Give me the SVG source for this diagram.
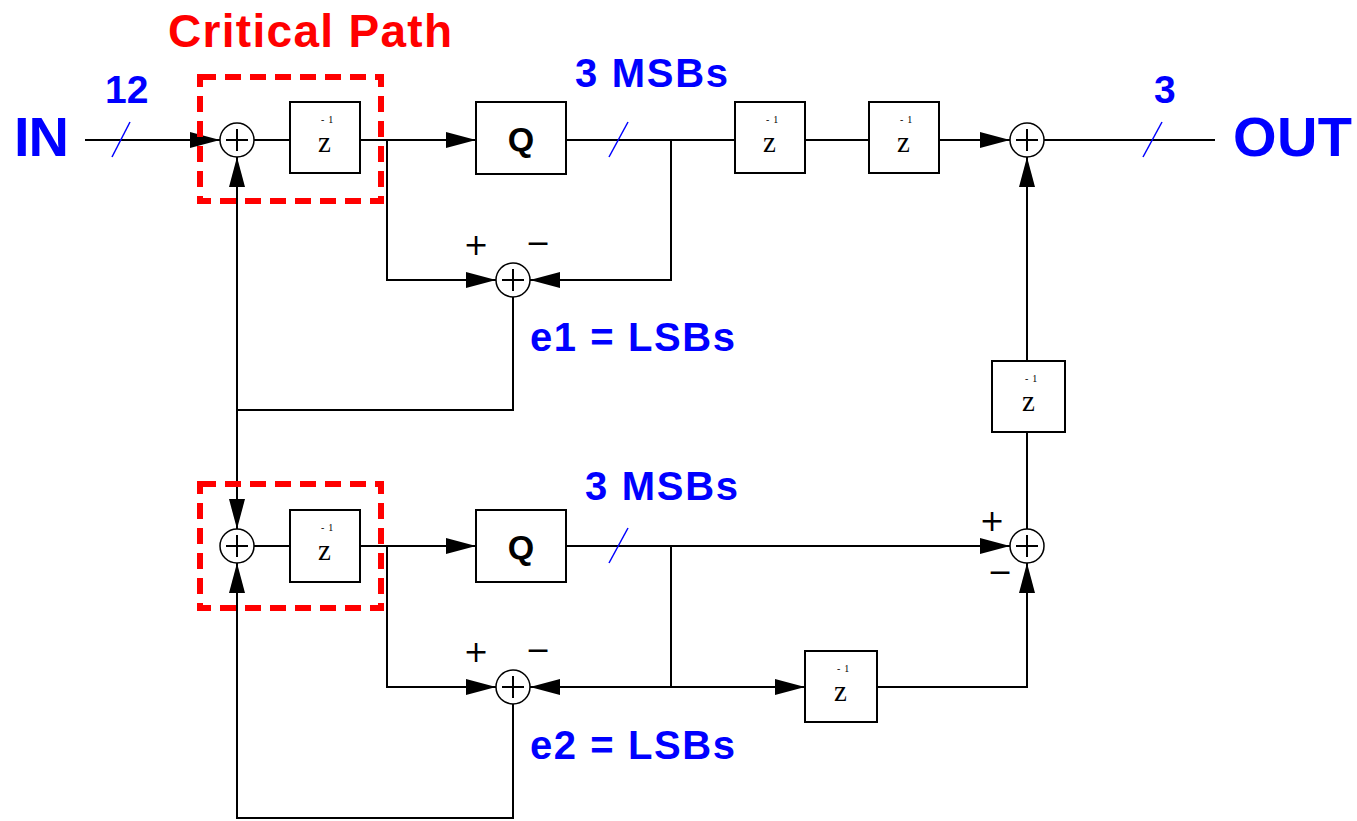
<svg xmlns="http://www.w3.org/2000/svg" width="1357" height="821" viewBox="0 0 1357 821">
<defs>
<style>
.w{stroke:#000;stroke-width:2;fill:none}
.box{stroke:#000;stroke-width:2;fill:#fff}
.sum{stroke:#000;stroke-width:1.5;fill:#fff}
.crit{stroke:#ff0000;stroke-width:6;fill:none;stroke-dasharray:16,9}
.sl{stroke:#0000ff;stroke-width:1.5}
.lbl{font-family:"Liberation Sans",Arial,sans-serif;font-weight:bold;fill:#0000ff}
.q{font-family:"Liberation Sans",Arial,sans-serif;font-weight:bold;fill:#000;font-size:34px}
.z{font-family:"Liberation Serif","Times New Roman",serif;fill:#000;font-size:29px}
.sup{font-family:"Liberation Serif","Times New Roman",serif;fill:#000;font-size:10px;letter-spacing:4px}
.pm{font-family:"DejaVu Sans",sans-serif;fill:#000;font-size:30px;font-weight:normal}
</style>
<marker id="ah" markerWidth="30" markerHeight="16" refX="30" refY="8" orient="auto" markerUnits="userSpaceOnUse">
<path d="M0,0 L30,8 L0,16 Z" fill="#000"/>
</marker>
</defs>
<rect width="1357" height="821" fill="#fff"/>

<g id="connectors">
<line class="w" x1="85" y1="140" x2="220" y2="140" marker-end="url(#ah)"/>
<line class="w" x1="254" y1="140" x2="290" y2="140"/>
<polyline class="w" points="360,140 476,140" marker-end="url(#ah)"/>
<polyline class="w" points="387,140 387,280 496,280" marker-end="url(#ah)"/>
<line class="w" x1="566" y1="140" x2="735" y2="140"/>
<polyline class="w" points="671,140 671,280 530,280" marker-end="url(#ah)"/>
<line class="w" x1="805" y1="140" x2="869" y2="140"/>
<line class="w" x1="939" y1="140" x2="1010" y2="140" marker-end="url(#ah)"/>
<line class="w" x1="1044" y1="140" x2="1215" y2="140"/>
<polyline class="w" points="513,297 513,410 237,410"/>
<line class="w" x1="237" y1="400" x2="237" y2="157" marker-end="url(#ah)"/>
<line class="w" x1="237" y1="400" x2="237" y2="529" marker-end="url(#ah)"/>
<line class="w" x1="254" y1="546" x2="290" y2="546"/>
<line class="w" x1="360" y1="546" x2="476" y2="546" marker-end="url(#ah)"/>
<line class="w" x1="566" y1="546" x2="1010" y2="546" marker-end="url(#ah)"/>
<polyline class="w" points="387,546 387,687 496,687" marker-end="url(#ah)"/>
<polyline class="w" points="671,546 671,687 530,687" marker-end="url(#ah)"/>
<line class="w" x1="671" y1="687" x2="805" y2="687" marker-end="url(#ah)"/>
<polyline class="w" points="877,687 1027,687 1027,563" marker-end="url(#ah)"/>
<line class="w" x1="1027" y1="529" x2="1027" y2="432"/>
<line class="w" x1="1027" y1="361" x2="1027" y2="157" marker-end="url(#ah)"/>
<polyline class="w" points="513,704 513,818 237,818 237,563" marker-end="url(#ah)"/>
<line class="sl" x1="112" y1="157" x2="130" y2="122"/>
<line class="sl" x1="609" y1="157" x2="628" y2="122"/>
<line class="sl" x1="1143" y1="157" x2="1162" y2="122"/>
<line class="sl" x1="609" y1="563" x2="628" y2="528"/>
</g>

<g id="sum1"><circle class="sum" cx="237" cy="140" r="17"/><path class="w" d="M226,140 H248 M237,129 V151"/></g>
<g id="sum2"><circle class="sum" cx="513" cy="280" r="17"/><path class="w" d="M502,280 H524 M513,269 V291"/><text class="pm" x="476" y="255" text-anchor="middle">+</text><text class="pm" x="538" y="253" text-anchor="middle">−</text></g>
<g id="sum3"><circle class="sum" cx="1027" cy="140" r="17"/><path class="w" d="M1016,140 H1038 M1027,129 V151"/></g>
<g id="sum4"><circle class="sum" cx="237" cy="546" r="17"/><path class="w" d="M226,546 H248 M237,535 V557"/></g>
<g id="sum5"><circle class="sum" cx="1027" cy="546" r="17"/><path class="w" d="M1016,546 H1038 M1027,535 V557"/><text class="pm" x="992" y="531" text-anchor="middle">+</text><text class="pm" x="1000" y="582" text-anchor="middle">−</text></g>
<g id="sum6"><circle class="sum" cx="513" cy="687" r="17"/><path class="w" d="M502,687 H524 M513,676 V698"/><text class="pm" x="476" y="662" text-anchor="middle">+</text><text class="pm" x="538" y="660" text-anchor="middle">−</text></g>

<g id="z1"><rect class="box" x="290" y="102" width="70" height="71"/><text class="z" x="318" y="152">z</text><text class="sup" x="321" y="123">-1</text></g>
<g id="q1"><rect class="box" x="476" y="102" width="90" height="72"/><text class="q" x="521" y="151" text-anchor="middle">Q</text></g>
<g id="z2"><rect class="box" x="735" y="102" width="70" height="71"/><text class="z" x="763" y="152">z</text><text class="sup" x="766" y="123">-1</text></g>
<g id="z3"><rect class="box" x="869" y="102" width="70" height="71"/><text class="z" x="897" y="152">z</text><text class="sup" x="900" y="123">-1</text></g>
<g id="z4"><rect class="box" x="992" y="361" width="73" height="71"/><text class="z" x="1022" y="411">z</text><text class="sup" x="1025" y="382">-1</text></g>
<g id="z5"><rect class="box" x="290" y="510" width="70" height="72"/><text class="z" x="318" y="560">z</text><text class="sup" x="321" y="531">-1</text></g>
<g id="q2"><rect class="box" x="476" y="510" width="90" height="72"/><text class="q" x="521" y="559" text-anchor="middle">Q</text></g>
<g id="z6"><rect class="box" x="805" y="651" width="72" height="71"/><text class="z" x="834" y="701">z</text><text class="sup" x="837" y="672">-1</text></g>

<g id="critical1"><rect class="crit" x="200" y="77" width="181" height="124"/></g>
<g id="critical2"><rect class="crit" x="200" y="484" width="181" height="124"/></g>

<g id="labels">
<text class="lbl" x="168" y="47" font-size="46" style="fill:#ff0000" textLength="284">Critical Path</text>
<text class="lbl" x="14" y="156" font-size="56" textLength="55">IN</text>
<text class="lbl" x="1233" y="156" font-size="56" textLength="119">OUT</text>
<text class="lbl" x="105" y="103" font-size="39">12</text>
<text class="lbl" x="1154" y="103" font-size="39">3</text>
<text class="lbl" x="575" y="87" font-size="40" textLength="153">3 MSBs</text>
<text class="lbl" x="530" y="351" font-size="40" textLength="205">e1 = LSBs</text>
<text class="lbl" x="585" y="500" font-size="40" textLength="153">3 MSBs</text>
<text class="lbl" x="530" y="759" font-size="40" textLength="205">e2 = LSBs</text>
</g>
</svg>
